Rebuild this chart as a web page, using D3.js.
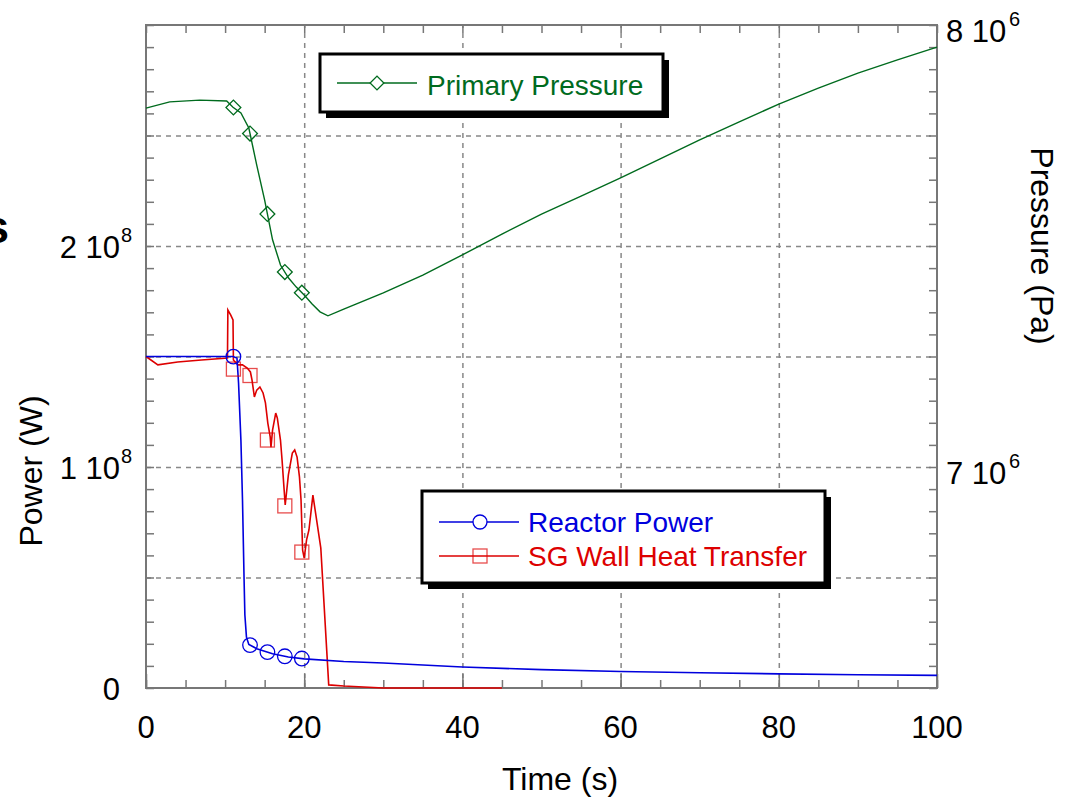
<!DOCTYPE html>
<html>
<head>
<meta charset="utf-8">
<script src="https://cdn.jsdelivr.net/npm/d3@7"></script>
<style>
  body { margin: 0; background: #fff; }
  text { font-family: "Liberation Sans", Arial, sans-serif; }
</style>
</head>
<body>
<div id="chart"></div>
<script>
// data
var pressureTime = [0, 3, 6.8, 10.2, 11, 12, 13, 14, 15, 16, 17, 18, 19, 20, 21, 22, 23,
                    25, 30, 35, 40, 45, 50, 55, 60, 65, 70, 75, 80, 85, 90, 95, 100];
var pressure = [7.812e6, 7.826e6, 7.830e6, 7.828e6, 7.814e6, 7.801e6, 7.767e6, 7.683e6, 7.604e6,
                7.514e6, 7.457e6, 7.428e6, 7.407e6, 7.389e6, 7.369e6, 7.351e6, 7.342e6,
                7.357e6, 7.394e6, 7.434e6, 7.480e6, 7.527e6, 7.572e6, 7.613e6, 7.654e6,
                7.697e6, 7.740e6, 7.781e6, 7.821e6, 7.857e6, 7.891e6, 7.921e6, 7.950e6];

var powerTime = [0, 11, 11.5, 11.7, 12, 12.2, 12.4, 12.5, 12.7, 13, 14, 16, 18, 20,
                 25, 30, 40, 50, 60, 70, 80, 90, 100];
var reactorPower = [1.50e8, 1.50e8, 1.493e8, 1.38e8, 1.12e8, 0.85e8, 0.49e8, 0.33e8, 0.23e8,
                    0.197e8, 0.178e8, 0.155e8, 0.140e8, 0.132e8, 0.120e8, 0.113e8, 0.095e8,
                    0.083e8, 0.075e8, 0.069e8, 0.064e8, 0.060e8, 0.057e8];

var sgTime = [0, 1.5, 4, 7, 10.3, 10.35, 10.7, 11, 11.05, 11.6, 12.2, 12.8, 13.2, 13.4, 13.7,
              14, 14.4, 14.8, 15.1, 15.4, 15.7, 15.8, 16, 16.4, 16.6, 17, 17.2, 17.4, 17.6,
              17.8, 18, 18.5, 18.8, 19.1, 19.4, 19.6, 19.8, 20, 20.3, 20.6, 21.1, 22.1, 23.1,
              25, 30, 45];
var sgHeat = [1.50e8, 1.462e8, 1.475e8, 1.484e8, 1.493e8, 1.710e8, 1.688e8, 1.665e8, 1.484e8,
              1.462e8, 1.462e8, 1.448e8, 1.43e8, 1.394e8, 1.317e8, 1.348e8, 1.362e8, 1.335e8,
              1.290e8, 1.199e8, 1.136e8, 1.090e8, 1.167e8, 1.244e8, 1.222e8, 1.122e8, 1.032e8,
              0.928e8, 0.828e8, 0.896e8, 0.964e8, 1.063e8, 1.077e8, 1.045e8, 0.955e8, 0.851e8,
              0.624e8, 0.588e8, 0.670e8, 0.715e8, 0.873e8, 0.633e8, 0.014e8, 0.009e8, 0, 0];

var markerTimes = [11.05, 13.15, 15.35, 17.55, 19.7];
var sgMarkerValues = [1.443e8, 1.414e8, 1.122e8, 0.824e8, 0.615e8];

var xTickValues = [0, 20, 40, 60, 80, 100];
var powerTickValues = [0, 1e8, 2e8];
var powerTickBase = ["0", "1 10", "2 10"];
var powerTickExp = ["", "8", "8"];
var pressureTickValues = [7e6, 8e6];
var pressureTickBase = ["7 10", "8 10"];
var pressureTickExp = ["6", "6"];

var green = "#006b1e", blue = "#0000dd", red = "#dd0000";

var width = 1065, height = 798;
var plotLeft = 146, plotRight = 937, plotTop = 25, plotBottom = 688;

var svg = d3.select("#chart").append("svg")
  .attr("width", width)
  .attr("height", height);

var x = d3.scaleLinear().domain([0, 100]).range([plotLeft, plotRight]);
var yL = d3.scaleLinear().domain([0, 3e8]).range([plotBottom, plotTop]);
var yR = d3.scaleLinear().domain([6.5e6, 8e6]).range([plotBottom, plotTop]);

// grid
var grid = svg.append("g").attr("color", "#888");
grid.append("g").attr("transform", "translate(0," + plotBottom + ")")
  .call(d3.axisBottom(x).tickValues([20, 40, 60, 80]).tickSize(-(plotBottom - plotTop)).tickFormat(""));
grid.append("g").attr("transform", "translate(" + plotLeft + ",0)")
  .call(d3.axisLeft(yL).tickValues([0.5e8, 1e8, 1.5e8, 2e8, 2.5e8]).tickSize(-(plotRight - plotLeft)).tickFormat(""));
grid.selectAll(".domain").remove();
grid.selectAll("line").attr("stroke-dasharray", "5,5").attr("stroke-width", 1.5);

// ticks
var ticks = svg.append("g").attr("color", "#777");
ticks.append("g").attr("transform", "translate(0," + plotBottom + ")")
  .call(d3.axisBottom(x).tickValues(d3.range(0, 101, 5)).tickSize(-8).tickFormat(""));
ticks.append("g").attr("transform", "translate(0," + plotBottom + ")")
  .call(d3.axisBottom(x).tickValues(xTickValues).tickSize(-14).tickFormat(""));
ticks.append("g").attr("transform", "translate(0," + plotTop + ")")
  .call(d3.axisTop(x).tickValues(d3.range(0, 101, 5)).tickSize(-8).tickFormat(""));
ticks.append("g").attr("transform", "translate(" + plotLeft + ",0)")
  .call(d3.axisLeft(yL).tickValues(d3.range(0, 31).map(function(i) { return i * 1e7; })).tickSize(-8).tickFormat(""));
ticks.append("g").attr("transform", "translate(" + plotRight + ",0)")
  .call(d3.axisRight(yR).tickValues(d3.range(0, 31).map(function(i) { return 6.5e6 + i * 5e4; })).tickSize(-8).tickFormat(""));
ticks.selectAll(".domain").remove();
ticks.selectAll("line").attr("stroke-width", 1.5);

svg.append("rect")
  .attr("x", plotLeft).attr("y", plotTop)
  .attr("width", plotRight - plotLeft).attr("height", plotBottom - plotTop)
  .attr("fill", "none").attr("stroke", "#777").attr("stroke-width", 2);

// curves
var linePressure = d3.line()
  .x(function(d) { return x(d[0]); })
  .y(function(d) { return yR(d[1]); });
var linePower = d3.line()
  .x(function(d) { return x(d[0]); })
  .y(function(d) { return yL(d[1]); });

svg.append("path").datum(d3.zip(pressureTime, pressure))
  .attr("d", linePressure).attr("fill", "none").attr("stroke", green).attr("stroke-width", 1.4);
svg.append("path").datum(d3.zip(sgTime, sgHeat))
  .attr("d", linePower).attr("fill", "none").attr("stroke", red).attr("stroke-width", 1.6);
svg.append("path").datum(d3.zip(powerTime, reactorPower))
  .attr("d", linePower).attr("fill", "none").attr("stroke", blue).attr("stroke-width", 1.6);

function interp(ts, vs, t) {
  var i = d3.bisectRight(ts, t);
  if (i <= 0) return vs[0];
  if (i >= ts.length) return vs[vs.length - 1];
  var f = (t - ts[i - 1]) / (ts[i] - ts[i - 1]);
  return vs[i - 1] + f * (vs[i] - vs[i - 1]);
}

var diamond = d3.symbol().type(d3.symbolSquare).size(110);

svg.append("g").selectAll("path")
  .data(markerTimes)
  .join("path")
  .attr("d", diamond)
  .attr("transform", function(t) {
    return "translate(" + x(t) + "," + yR(interp(pressureTime, pressure, t)) + ") rotate(45)";
  })
  .attr("fill", "none").attr("stroke", green).attr("stroke-width", 1.3);

svg.append("g").selectAll("rect")
  .data(d3.zip(markerTimes, sgMarkerValues))
  .join("rect")
  .attr("x", function(d) { return x(d[0]) - 7; })
  .attr("y", function(d) { return yL(d[1]) - 7; })
  .attr("width", 14).attr("height", 14)
  .attr("fill", "none").attr("stroke", red).attr("stroke-opacity", 0.7).attr("stroke-width", 1.3);

svg.append("g").selectAll("circle")
  .data(markerTimes)
  .join("circle")
  .attr("cx", function(t) { return x(t); })
  .attr("cy", function(t) { return yL(interp(powerTime, reactorPower, t)); })
  .attr("r", 7.3)
  .attr("fill", "none").attr("stroke", blue).attr("stroke-width", 1.3);

// legends
function box(x0, y0, w, h) {
  svg.append("rect").attr("x", x0 + 6).attr("y", y0 + 6).attr("width", w).attr("height", h).attr("fill", "#000");
  svg.append("rect").attr("x", x0).attr("y", y0).attr("width", w).attr("height", h)
    .attr("fill", "#fff").attr("stroke", "#000").attr("stroke-width", 3);
}

box(320, 54, 343, 58);
svg.append("line").attr("x1", 337).attr("x2", 417).attr("y1", 83).attr("y2", 83)
  .attr("stroke", green).attr("stroke-width", 1.3);
svg.append("path").attr("d", d3.symbol().type(d3.symbolSquare).size(95))
  .attr("transform", "translate(377,83) rotate(45)")
  .attr("fill", "#fff").attr("stroke", green).attr("stroke-width", 1.3);
svg.append("text").attr("x", 427).attr("y", 95).attr("font-size", 28).attr("fill", green)
  .text("Primary Pressure");

box(422, 491, 403, 92);
svg.append("line").attr("x1", 439).attr("x2", 519).attr("y1", 522).attr("y2", 522)
  .attr("stroke", blue).attr("stroke-width", 1.3);
svg.append("circle").attr("cx", 480).attr("cy", 522).attr("r", 7)
  .attr("fill", "#fff").attr("stroke", blue).attr("stroke-width", 1.3);
svg.append("text").attr("x", 528).attr("y", 532).attr("font-size", 28).attr("fill", blue)
  .text("Reactor Power");
svg.append("line").attr("x1", 439).attr("x2", 519).attr("y1", 556).attr("y2", 556)
  .attr("stroke", red).attr("stroke-width", 1.3);
svg.append("rect").attr("x", 473).attr("y", 549).attr("width", 14).attr("height", 14)
  .attr("fill", "none").attr("stroke", red).attr("stroke-opacity", 0.7).attr("stroke-width", 1.3);
svg.append("text").attr("x", 528).attr("y", 566).attr("font-size", 28).attr("fill", red)
  .text("SG Wall Heat Transfer");

// tick labels
svg.append("g").selectAll("text")
  .data(xTickValues)
  .join("text")
  .attr("x", function(d) { return x(d); })
  .attr("y", 738)
  .attr("text-anchor", "middle")
  .attr("font-size", 31)
  .text(function(d) { return d; });

var leftLabels = svg.append("g").selectAll("g")
  .data(d3.range(powerTickValues.length))
  .join("g");
leftLabels.append("text")
  .attr("x", 120)
  .attr("y", function(i) { return yL(powerTickValues[i]) + 12; })
  .attr("text-anchor", "end")
  .attr("font-size", 31)
  .text(function(i) { return powerTickBase[i]; });
leftLabels.append("text")
  .attr("x", 121)
  .attr("y", function(i) { return yL(powerTickValues[i]) - 4; })
  .attr("font-size", 20)
  .text(function(i) { return powerTickExp[i]; });

var rightLabels = svg.append("g").selectAll("g")
  .data(d3.range(pressureTickValues.length))
  .join("g");
rightLabels.append("text")
  .attr("x", 946)
  .attr("y", function(i) { return yR(pressureTickValues[i]) + 17; })
  .attr("font-size", 31)
  .text(function(i) { return pressureTickBase[i]; });
rightLabels.append("text")
  .attr("x", 1009)
  .attr("y", function(i) { return yR(pressureTickValues[i]) + 1; })
  .attr("font-size", 20)
  .text(function(i) { return pressureTickExp[i]; });

// axis titles
svg.append("text").attr("x", 560).attr("y", 790).attr("text-anchor", "middle")
  .attr("font-size", 32).text("Time (s)");
svg.append("text").attr("transform", "translate(42,471) rotate(-90)").attr("text-anchor", "middle")
  .attr("font-size", 32).text("Power (W)");
svg.append("text").attr("transform", "translate(1031,246) rotate(90)").attr("text-anchor", "middle")
  .attr("font-size", 32).text("Pressure (Pa)");

// clipped fragment at the left edge
svg.append("text").attr("x", 9).attr("y", 243).attr("text-anchor", "end")
  .attr("font-size", 46).attr("font-weight", "bold").text("s");
</script>
</body>
</html>
